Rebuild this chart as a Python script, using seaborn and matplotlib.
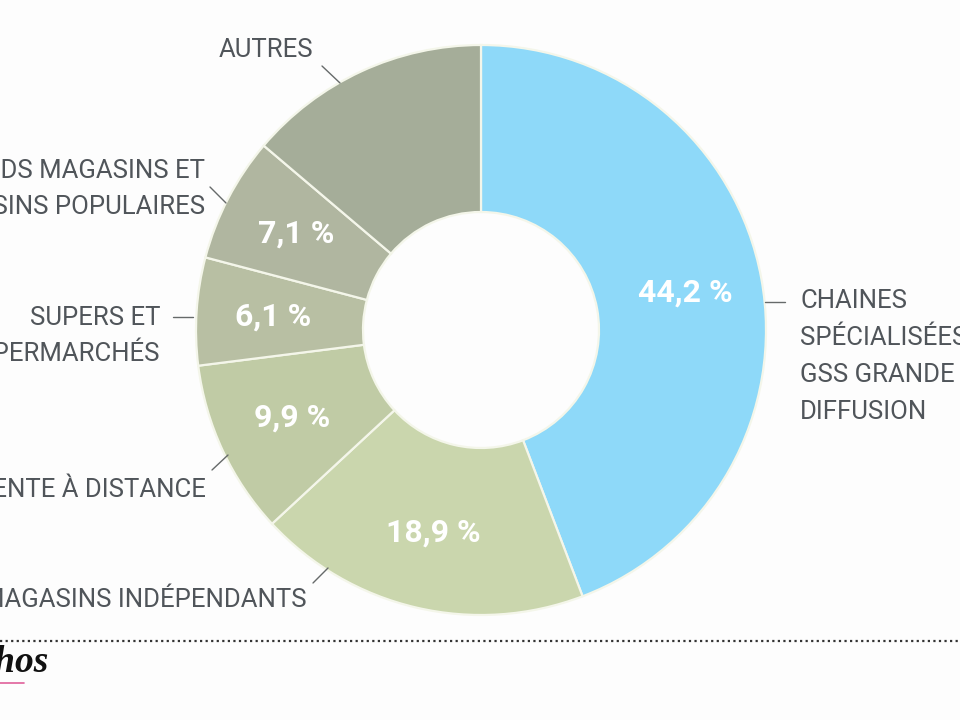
import seaborn as sns
import matplotlib.pyplot as plt

# data, clockwise from the top
categories = ['CHAINES\nSPÉCIALISÉES\nGSS GRANDE\nDIFFUSION', 'MAGASINS INDÉPENDANTS',
              'VENTE À DISTANCE', 'SUPERS ET\nHYPERMARCHÉS',
              'GRANDS MAGASINS ET\nMAGASINS POPULAIRES', 'AUTRES']
shares = [44.2, 18.9, 9.9, 6.1, 7.1, 13.8]
show_pct = [True, True, True, True, True, False]
colors = ['#8ed9f9', '#cad6ad', '#c0cba5', '#b8bfa3', '#b0b6a0', '#a5ad99']

sns.set_theme(style='white')
plt.rcParams['font.family'] = ['Roboto', 'DejaVu Sans']

fig = plt.figure(figsize=(9.6, 7.2), dpi=100, facecolor='#fdfdfd')
ax = fig.add_axes([0, 0, 1, 1])

cx, cy, R = 481, 390, 285
wedges, _, autotexts = ax.pie(
    shares, colors=colors, startangle=90, counterclock=False,
    center=(cx, cy), radius=R, autopct=lambda p: f'{p:.1f} %'.replace('.', ','),
    pctdistance=0.73, frame=True,
    wedgeprops=dict(width=R - 118, edgecolor='#f4f6ea', linewidth=1.6),
    textprops=dict(color='white', fontsize=23, fontweight='bold'))
for t, show in zip(autotexts, show_pct):
    if not show:
        t.set_text('')
ax.set_xlim(0, 960)
ax.set_ylim(0, 720)
ax.set_aspect('equal')
ax.axis('off')

txt = dict(color='#50555a', fontsize=18.5, linespacing=1.68)
lc = '#666a6a'

def y(py):
    return 720 - py

# labels and leader lines (pixel positions)
ax.text(800, y(289), categories[0], ha='left', va='top', **txt)
ax.plot([765, 785], [y(302), y(302)], color=lc, lw=1)

ax.text(307, y(600), categories[1], ha='right', va='center', **txt)
ax.plot([313, 328], [y(583), y(568)], color=lc, lw=1)

ax.text(206, y(490), categories[2], ha='right', va='center', **txt)
ax.plot([212, 228], [y(470), y(455)], color=lc, lw=1)

ax.text(160, y(336), categories[3], ha='right', va='center', multialignment='right', **txt)
ax.plot([173, 193], [y(317), y(317)], color=lc, lw=1)

ax.text(205, y(189), categories[4], ha='right', va='center', multialignment='right', **txt)
ax.plot([210, 226], [y(187), y(203)], color=lc, lw=1)

ax.text(266, y(50), categories[5], ha='center', va='center', **txt)
ax.plot([322, 340], [y(66), y(83)], color=lc, lw=1)

# footer
ax.plot([0, 960], [y(641), y(641)], color='#333333', lw=1.6, ls=(0, (1, 1.5)))
ax.text(49, y(663), 'Les Echos', ha='right', va='center', fontsize=27,
        family='Liberation Serif', fontstyle='italic', fontweight='bold', color='#111111')
ax.plot([0, 24], [y(683), y(683)], color='#e0609a', lw=1.2)

fig.savefig('out.png', dpi=100, facecolor=fig.get_facecolor())
